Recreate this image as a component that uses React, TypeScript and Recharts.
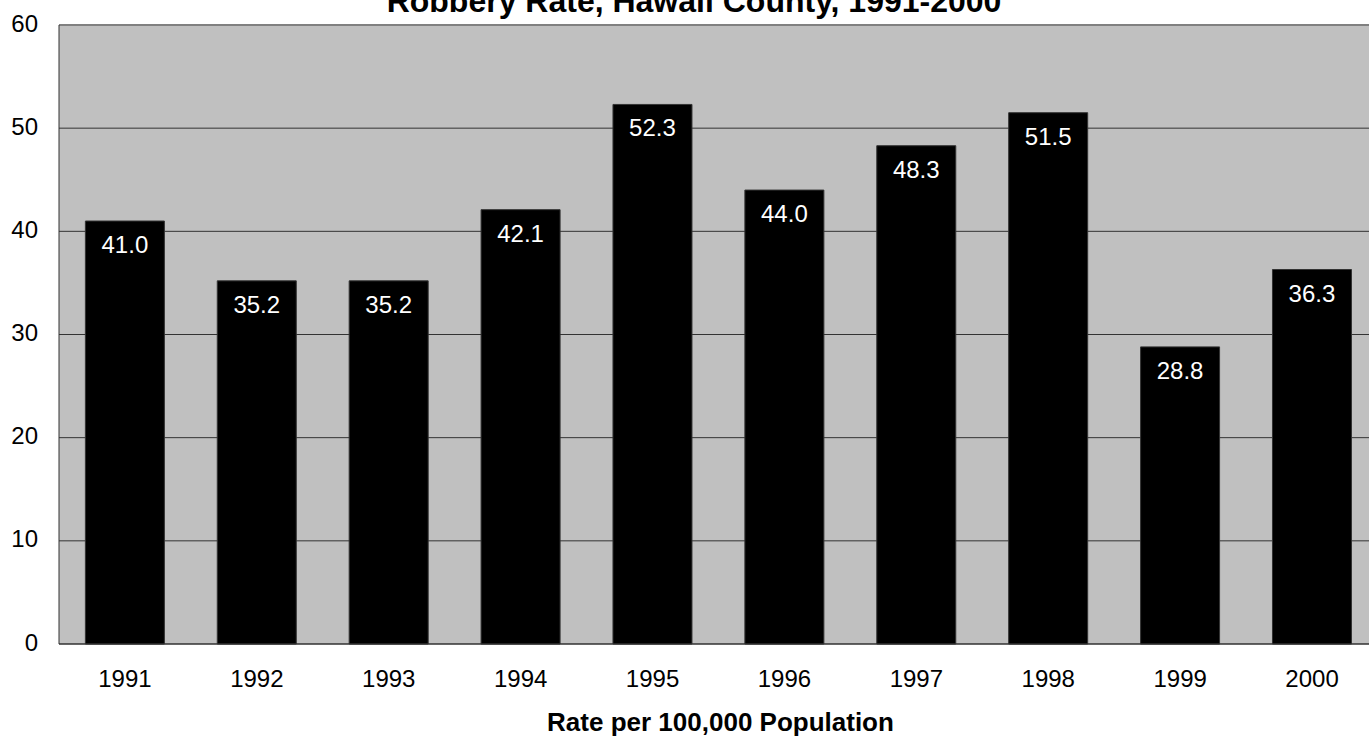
import { Bar, BarChart, CartesianGrid, LabelList, ReferenceLine, XAxis, YAxis } from 'recharts';

const years = ['1991', '1992', '1993', '1994', '1995', '1996', '1997', '1998', '1999', '2000'];
const rates = [41.0, 35.2, 35.2, 42.1, 52.3, 44.0, 48.3, 51.5, 28.8, 36.3];
const yTicks = [0, 10, 20, 30, 40, 50, 60];

const title = 'Robbery Rate, Hawaii County, 1991-2000';
const axisTitle = 'Rate per 100,000 Population';

const data = years.map((year, i) => ({ year, rate: rates[i] }));

const font = '"Liberation Sans", Arial, sans-serif';

export default function App() {
  return (
    <div
      style={{
        position: 'absolute',
        left: 0,
        top: 0,
        width: 1369,
        height: 738,
        overflow: 'hidden',
        background: '#fff',
        fontFamily: font,
      }}
    >
      {/* title runs off the top edge, as in the source image */}
      <div
        style={{
          position: 'absolute',
          left: 694,
          top: 10,
          transform: 'translate(-50%, -78%)',
          fontSize: 32,
          fontWeight: 'bold',
          whiteSpace: 'nowrap',
          lineHeight: 1,
          color: '#000',
        }}
      >
        {title}
      </div>
      <BarChart
        width={1380}
        height={738}
        data={data}
        margin={{ top: 25, right: 2, left: 0, bottom: 0 }}
        barCategoryGap="20%"
        style={{ position: 'absolute', left: 0, top: 0 }}
      >
        <CartesianGrid vertical={false} fill="#c0c0c0" stroke="#333" strokeWidth={1} />
        <XAxis
          dataKey="year"
          height={94}
          tickLine={false}
          tickSize={0}
          tickMargin={26}
          axisLine={{ stroke: '#333', strokeWidth: 1 }}
          tick={{ fill: '#000', fontSize: 24, fontFamily: font }}
          interval={0}
          label={{
            value: axisTitle,
            position: 'insideBottom',
            offset: 7,
            dx: 2,
            fill: '#000',
            fontSize: 26,
            fontWeight: 'bold',
            fontFamily: font,
          }}
        />
        <YAxis
          width={59}
          domain={[0, 60]}
          ticks={yTicks}
          tickLine={false}
          tickSize={0}
          tickMargin={21}
          axisLine={{ stroke: '#333', strokeWidth: 1 }}
          tick={{ fill: '#000', fontSize: 24, fontFamily: font, dy: -2 }}
          interval={0}
        />
        <ReferenceLine y={60} stroke="#808080" strokeWidth={2} />
        <Bar dataKey="rate" fill="#000" stroke="#333" strokeWidth={1} isAnimationActive={false}>
          <LabelList
            dataKey="rate"
            position="insideTop"
            offset={15}
            formatter={(v: number) => v.toFixed(1)}
            fill="#fff"
            fontSize={24}
            fontFamily={font}
          />
        </Bar>
      </BarChart>
    </div>
  );
}
